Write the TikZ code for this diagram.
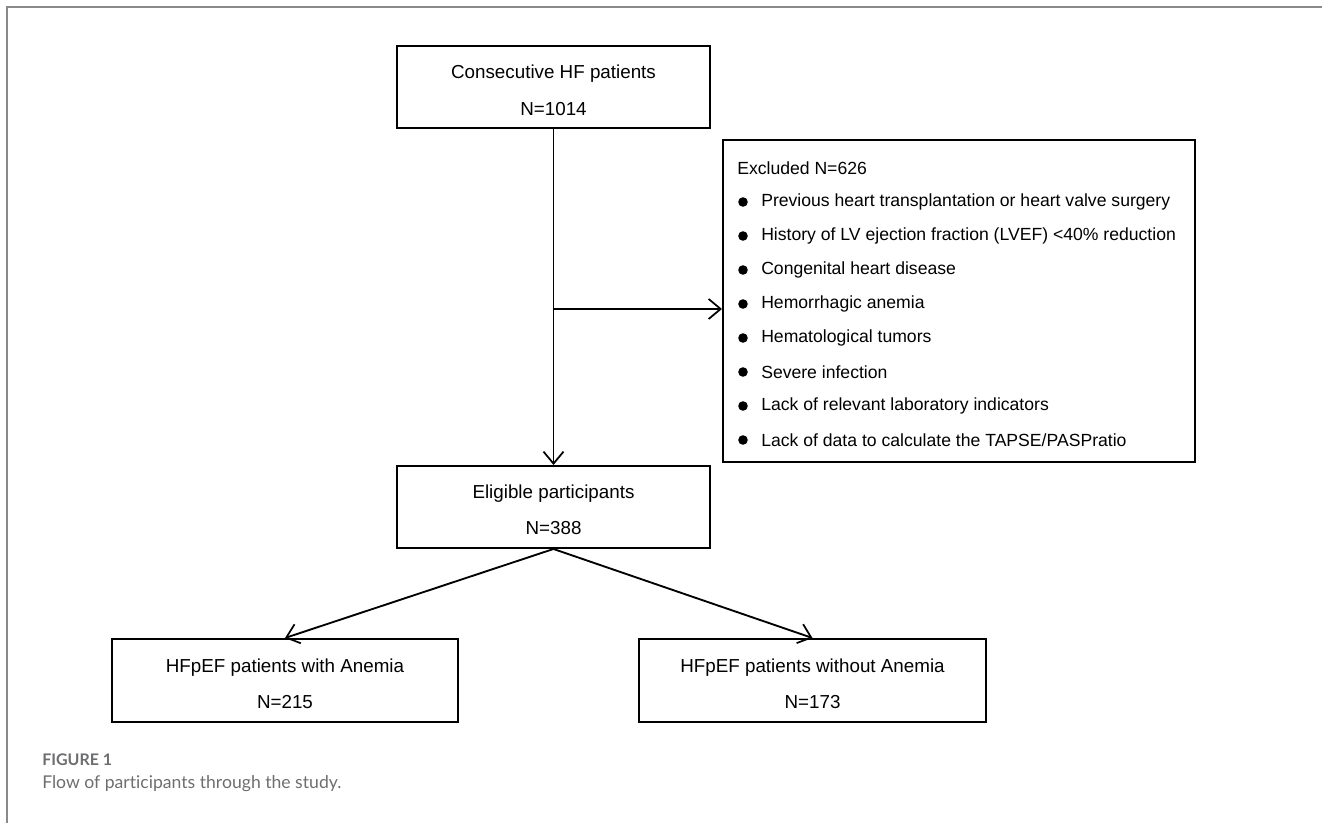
\documentclass[tikz,border=0pt]{standalone}
\usepackage{fontspec}
\setmainfont{Liberation Sans}
\newfontfamily\capfont[Ligatures={NoCommon,NoRare}]{Lato}
\usetikzlibrary{arrows.meta}
\definecolor{framegray}{HTML}{8A8A8A}
\definecolor{capgray}{HTML}{6D6E70}
\tikzset{
  box/.style={draw=black, line width=1.5pt, inner sep=0pt, fill=white},
  boxtext/.style={inner sep=0pt, font=\fontsize{14.1}{16}\selectfont},
  extext/.style={inner sep=0pt, anchor=west, font=\fontsize{13.2}{15}\selectfont},
  conn/.style={draw=black, line width=1.4pt, -{Straight Barb[length=9pt, width=15pt, line width=1.3pt]}},
  bul/.style={circle, fill=black, inner sep=0pt, minimum size=7.2pt},
}
\begin{document}
\begin{tikzpicture}[x=0.75pt, y=-0.75pt]
\useasboundingbox (0,0) rectangle (1322,823);
% frame
\draw[framegray, line width=0.9pt] (1322,7) -- (7,7) -- (7,823);
% boxes
\node[box, minimum width=234.75pt, minimum height=61.5pt] (top) at (553.5,87) {};
\node[boxtext] (topa) at (553.5,74) {Consecutive HF patients};
\node[boxtext] (topb) at (553.5,109) {N=1014};

\node[box, minimum width=354pt, minimum height=241.5pt] (excl) at (959,301) {};
\node[extext] (ex0) at (737,168) {Excluded N=626};
\foreach \i/\t in {1/{Previous heart transplantation or heart valve surgery},
                   2/{History of LV ejection fraction (LVEF) <40\% reduction},
                   3/{Congenital heart disease},
                   4/{Hemorrhagic anemia},
                   5/{Hematological tumors},
                   6/{Severe infection},
                   7/{Lack of relevant laboratory indicators},
                   8/{Lack of data to calculate the TAPSE/PASPratio}}{
  \node[bul] (b\i) at (743,168+34*\i) {};
  \node[extext] (ex\i) at (761,168+34*\i) {\t};
}

\node[box, minimum width=234.75pt, minimum height=61.5pt] (elig) at (553.5,507) {};
\node[boxtext] (eliga) at (553.5,494) {Eligible participants};
\node[boxtext] (eligb) at (553.5,528) {N=388};

\node[box, minimum width=259.5pt, minimum height=62.25pt] (left) at (285,680.5) {};
\node[boxtext] (lefta) at (285,668) {HFpEF patients with Anemia};
\node[boxtext] (leftb) at (285,702) {N=215};

\node[box, minimum width=260.25pt, minimum height=62.25pt] (right) at (812.5,680.5) {};
\node[boxtext] (righta) at (812.5,668) {HFpEF patients without Anemia};
\node[boxtext] (rightb) at (812.5,702) {N=173};

% connectors
\coordinate (br) at (553.5,309);
\draw[conn] (top.south) -- (elig.north);
\draw[conn] (br) -- (br -| excl.west);
\draw[conn] (elig.south) -- (left.north);
\draw[conn] (elig.south) -- (right.north);

% caption
\node[inner sep=0pt, anchor=west, text=capgray, font=\capfont\fontsize{12}{14}\selectfont\bfseries] (fig) at (42,760) {FIGURE 1};
\node[inner sep=0pt, anchor=west, text=capgray, font=\capfont\fontsize{13.2}{16}\selectfont] (capt) at (42,784) {Flow of participants through the study.};
\end{tikzpicture}
\end{document}
